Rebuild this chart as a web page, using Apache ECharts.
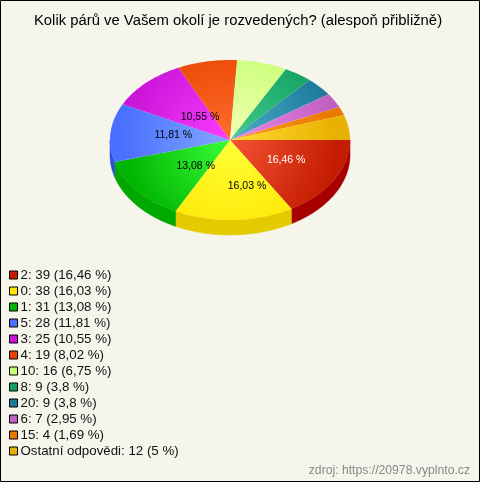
<!DOCTYPE html>
<html>
<head>
<meta charset="utf-8">
<style>html,body{margin:0;padding:0;background:#f5f5ec}#c{width:480px;height:482px}</style>
<script src="https://cdn.jsdelivr.net/npm/echarts@6/dist/echarts.min.js"></script>
</head>
<body>
<div id="c"></div>
<script>
const titleText = 'Kolik párů ve Vašem okolí je rozvedených? (alespoň přibližně)';
const sourceText = 'zdroj: https://20978.vyplnto.cz';
const categories = ['2','0','1','5','3','4','10','8','20','6','15','Ostatní odpovědi'];
const counts = [39,38,31,28,25,19,16,9,9,7,4,12];
const percents = ['16,46','16,03','13,08','11,81','10,55','8,02','6,75','3,8','3,8','2,95','1,69','5'];
const rimColors = ['#c41c00','#ffe600','#00b400','#4a70ff','#c814d8','#e84400','#c4ff70','#10a060','#1c7a98','#c060c0','#e87800','#e8b000'];
const hubColors = ['#f45434','#ffff38','#38ff38','#84a8ff','#fb3cff','#ff6c2c','#f2ffb4','#44cc8c','#4cacc8','#ec88ec','#ff9c18','#ffdc30'];
const sideColors = ['#a80000','#e3cb00','#00a800','#2a50d8','#9010a0','#b03000','#90c050','#087048','#145870','#904890','#b05800','#b08400'];
// pixel adjustment of each printed percentage, in label order
const labelShifts = [[-8,0],[3,6],[0,1],[-9,-1],[0,6]];

const CX = 230, CY = 140, RX = 120, RY = 80, DEPTH = 15, LABEL_MIN = 10;
const total = counts.reduce((a, b) => a + b, 0);
const starts = counts.map((_, i) => counts.slice(0, i).reduce((a, b) => a + b, 0) / total * 360);
const rad = d => d * Math.PI / 180;
const pt = (deg, dy) => [CX + RX * Math.cos(rad(deg)), CY + dy + RY * Math.sin(rad(deg))];
function arc(a0, a1, dy) {
  const out = [], n = Math.max(2, Math.ceil(a1 - a0));
  for (let k = 0; k <= n; k++) out.push(pt(a0 + (a1 - a0) * k / n, dy));
  return out;
}
function renderSlice(i) {
  return function (params, api) {
    const a0 = starts[i], a1 = a0 + api.value(0) / total * 360;
    const children = [];
    const s0 = Math.max(a0, 0), s1 = Math.min(a1, 180);
    if (s1 > s0) {
      children.push({
        type: 'polygon', z2: 1,
        shape: { points: arc(s0, s1, 0).concat(arc(s0, s1, DEPTH).reverse()) },
        style: { fill: sideColors[i], stroke: sideColors[i], lineWidth: 0.5 }
      });
    }
    children.push({
      type: 'polygon', z2: 2,
      shape: { points: [[CX, CY]].concat(arc(a0, a1, 0)) },
      style: {
        fill: new echarts.graphic.RadialGradient(CX, CY, 108, [
          { offset: 0, color: hubColors[i] }, { offset: 1, color: rimColors[i] }
        ], true)
      }
    });
    return { type: 'group', children };
  };
}
const labelIdx = counts.map((_, i) => i).filter(i => parseFloat(percents[i].replace(',', '.')) >= LABEL_MIN);
function renderLabel(params, api) {
  const i = api.value(0);
  const mid = starts[i] + counts[i] / total * 180;
  const x = CX + 12 + 0.5 * RX * Math.cos(rad(mid)) + labelShifts[params.dataIndex][0];
  const y = CY + 0.5 * RY * Math.sin(rad(mid)) + labelShifts[params.dataIndex][1];
  return {
    type: 'text',
    style: {
      x, y, text: percents[i] + ' %', textAlign: 'center', textVerticalAlign: 'middle',
      font: '10.5px "Liberation Sans", Arial, sans-serif', fill: i === 0 ? '#ffffff' : '#000000'
    }
  };
}
const legendName = i => categories[i] + ': ' + counts[i] + ' (' + percents[i] + ' %)';

const chart = echarts.init(document.getElementById('c'), null, { renderer: 'canvas' });
chart.setOption({
  animation: false,
  backgroundColor: '#f5f5ec',
  title: {
    text: titleText, left: 233, top: 8, textAlign: 'center',
    textStyle: { fontFamily: '"Liberation Sans", Arial, sans-serif', fontSize: 14.85, fontWeight: 'normal', color: '#000' }
  },
  legend: {
    orient: 'vertical', left: 4, top: 262, itemWidth: 8, itemHeight: 8, itemGap: 0, selectedMode: false,
    icon: 'rect',
    itemStyle: { borderColor: '#000', borderWidth: 1 },
    textStyle: { fontFamily: '"Liberation Sans", Arial, sans-serif', fontSize: 13.3, color: '#111', padding: [0, 0, 0, -2], lineHeight: 16 },
    data: categories.map((_, i) => ({ name: legendName(i), itemStyle: { color: rimColors[i] } }))
  },
  graphic: [
    { type: 'rect', shape: { x: 0.5, y: 0.5, width: 479, height: 481 }, style: { fill: 'none', stroke: '#000', lineWidth: 1 }, silent: true, z: 100 },
    { type: 'text', right: 10, top: 465, style: { text: sourceText, font: '12.2px "Liberation Sans", Arial, sans-serif', fill: '#888' }, silent: true }
  ],
  series: categories.map((_, i) => ({
    type: 'custom', name: legendName(i), coordinateSystem: 'none', silent: true,
    itemStyle: { color: rimColors[i] },
    data: [counts[i]], renderItem: renderSlice(i), z: 2
  })).concat([{
    type: 'custom', name: 'labels', coordinateSystem: 'none', silent: true,
    data: labelIdx, renderItem: renderLabel, z: 3
  }])
});
</script>
</body>
</html>
